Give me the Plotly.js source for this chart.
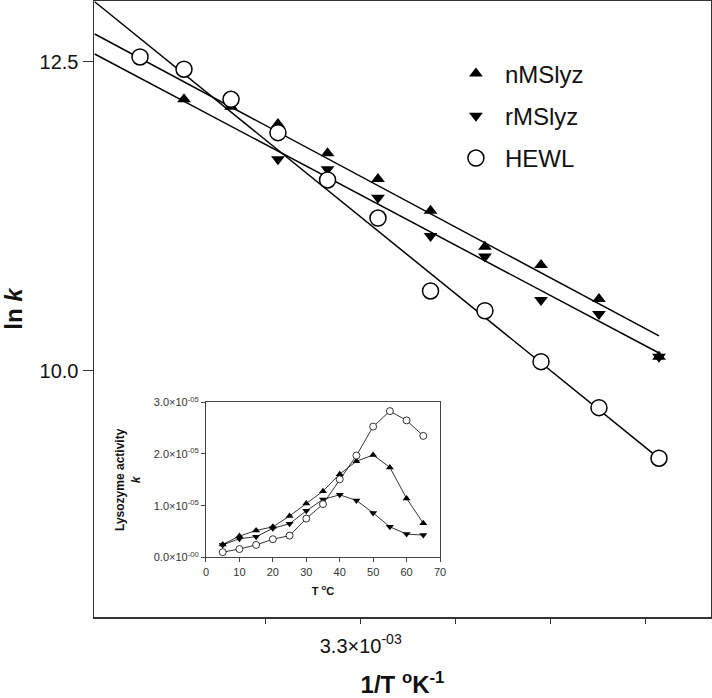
<!DOCTYPE html>
<html>
<head>
<meta charset="utf-8">
<script src="https://cdn.plot.ly/plotly-3.0.1.min.js"></script>
<style>html,body{margin:0;padding:0;background:#fff;}#chart{width:712px;height:698px;}</style>
</head>
<body>
<div id="chart"></div>
<script>
// ---- Main Arrhenius plot: ln k vs 1/T (1/K) ----
const hewlInvT = [0.0030677, 0.0031140, 0.0031635, 0.0032129, 0.0032651, 0.0033182, 0.0033735, 0.0034308, 0.0034898, 0.0035508, 0.0036140];
const hewlLnK  = [12.538, 12.439, 12.196, 11.926, 11.543, 11.235, 10.645, 10.485, 10.073, 9.701, 9.292];

const nmsInvT  = [0.0031140, 0.0031635, 0.0032129, 0.0032651, 0.0033182, 0.0033735, 0.0034308, 0.0034898, 0.0035508, 0.0036140];
const nmsLnK   = [12.196, 12.136, 11.996, 11.759, 11.551, 11.294, 11.002, 10.855, 10.580, 10.113];

const rmsInvT  = [0.0032129, 0.0032651, 0.0033182, 0.0033735, 0.0034308, 0.0034898, 0.0035508, 0.0036140];
const rmsLnK   = [11.710, 11.629, 11.400, 11.090, 10.923, 10.572, 10.459, 10.113];

// fitted straight lines (end points)
const fitInvT  = [0.0030200, 0.0036140];
const nmsFit   = [12.724, 10.281];
const rmsFit   = [12.562, 10.143];
const hewlFit  = [12.985, 9.291];

const xTickVals = [0.0032, 0.0033, 0.0034, 0.0035, 0.0036];
const xTickText = ['', '3.3×10<sup>-03</sup>', '', '', ''];
const yTickVals = [10, 12.5];
const yTickText = ['10.0', '12.5'];

// ---- Inset: lysozyme activity k vs T (°C) ----
const tempC   = [5, 10, 15, 20, 25, 30, 35, 40, 45, 50, 55, 60, 65];
const hewlAct = [0.10e-5, 0.16e-5, 0.24e-5, 0.35e-5, 0.42e-5, 0.75e-5, 1.03e-5, 1.51e-5, 1.97e-5, 2.53e-5, 2.83e-5, 2.65e-5, 2.35e-5];
const nmsAct  = [0.25e-5, 0.41e-5, 0.52e-5, 0.59e-5, 0.80e-5, 1.04e-5, 1.28e-5, 1.61e-5, 1.86e-5, 1.98e-5, 1.74e-5, 1.14e-5, 0.66e-5];
const rmsAct  = [0.24e-5, 0.36e-5, 0.40e-5, 0.56e-5, 0.65e-5, 0.90e-5, 1.12e-5, 1.21e-5, 1.10e-5, 0.86e-5, 0.59e-5, 0.45e-5, 0.43e-5];
const insetYTickVals = [0, 1e-5, 2e-5, 3e-5];
const insetYTickText = ['0.0×10<sup>-00</sup>', '1.0×10<sup>-05</sup>', '2.0×10<sup>-05</sup>', '3.0×10<sup>-05</sup>'];

const FONT = 'Liberation Sans, Arial, Helvetica, sans-serif';
const lineStyle = {color: '#000', width: 1.5};

const traces = [
  {x: fitInvT, y: nmsFit,  mode: 'lines', line: lineStyle, showlegend: false, hoverinfo: 'skip'},
  {x: fitInvT, y: rmsFit,  mode: 'lines', line: lineStyle, showlegend: false, hoverinfo: 'skip'},
  {x: fitInvT, y: hewlFit, mode: 'lines', line: lineStyle, showlegend: false, hoverinfo: 'skip'},
  {x: nmsInvT, y: nmsLnK, mode: 'markers', name: 'nMSlyz', legendgroup: 'a',
   marker: {symbol: 'triangle-up', size: 12, color: '#000'}},
  {x: rmsInvT, y: rmsLnK, mode: 'markers', name: 'rMSlyz', legendgroup: 'b',
   marker: {symbol: 'triangle-down', size: 12, color: '#000'}},
  {x: hewlInvT, y: hewlLnK, mode: 'markers', name: 'HEWL', legendgroup: 'c',
   marker: {symbol: 'circle', size: 16, color: '#fff', line: {color: '#000', width: 1.5}}},
  // inset
  {x: tempC, y: nmsAct, xaxis: 'x2', yaxis: 'y2', mode: 'lines+markers', showlegend: false,
   line: {color: '#000', width: 0.8}, marker: {symbol: 'triangle-up', size: 7, color: '#000'}},
  {x: tempC, y: rmsAct, xaxis: 'x2', yaxis: 'y2', mode: 'lines+markers', showlegend: false,
   line: {color: '#000', width: 0.8}, marker: {symbol: 'triangle-down', size: 7, color: '#000'}},
  {x: tempC, y: hewlAct, xaxis: 'x2', yaxis: 'y2', mode: 'lines+markers', showlegend: false,
   line: {color: '#000', width: 0.8}, marker: {symbol: 'circle', size: 7, color: '#fff', line: {color: '#000', width: 0.8}}}
];

const layout = {
  width: 712, height: 698,
  margin: {l: 94, r: 1, t: 1, b: 81, pad: 0},
  paper_bgcolor: '#fff', plot_bgcolor: '#fff',
  font: {family: FONT, color: '#111'},
  showlegend: true,
  legend: {x: 0.572, xanchor: 'left', y: 0.918, yanchor: 'top', itemwidth: 48,
           font: {family: FONT, size: 24, color: '#111'}, tracegroupgap: 8,
           bgcolor: 'rgba(0,0,0,0)', traceorder: 'grouped'},
  xaxis: {range: [0.00301926, 0.00366874], tickvals: xTickVals, ticktext: xTickText,
          ticks: 'outside', ticklen: 5, tickwidth: 1.5, tickcolor: '#333',
          showline: true, linecolor: '#333', linewidth: 1.5, mirror: true,
          showgrid: false, zeroline: false, tickfont: {size: 20, color: '#111'},
          ticklabelstandoff: 5,
          title: {text: '<b>1/T <sup>o</sup>K<sup>-1</sup></b>', font: {size: 24, color: '#111'}, standoff: 24}},
  yaxis: {range: [8.0073, 12.991], tickvals: yTickVals, ticktext: yTickText,
          ticks: 'outside', ticklen: 10, tickwidth: 1.5, tickcolor: '#333',
          showline: true, linecolor: '#333', linewidth: 1.5, mirror: true,
          showgrid: false, zeroline: false, tickfont: {size: 20, color: '#111'},
          title: {text: '<b>ln <i>k</i></b>', font: {size: 24, color: '#111'}, standoff: 12}},
  xaxis2: {domain: [0.1815, 0.5608], anchor: 'y2', range: [0, 70], dtick: 10, tick0: 0,
           ticks: 'outside', ticklen: 4, tickwidth: 1, tickcolor: '#444',
           showline: true, linecolor: '#444', linewidth: 1, mirror: true,
           showgrid: false, zeroline: false, tickfont: {size: 11, color: '#333'},
           title: {text: '<b>T <sup>o</sup>C</b>', font: {size: 11, color: '#111'}, standoff: 10}},
  yaxis2: {domain: [0.0969, 0.3485], anchor: 'x2', range: [0, 3e-5],
           tickvals: insetYTickVals, ticktext: insetYTickText,
           ticks: 'outside', ticklen: 4, tickwidth: 1, tickcolor: '#444',
           showline: true, linecolor: '#444', linewidth: 1, mirror: true,
           showgrid: false, zeroline: false, tickfont: {size: 11, color: '#333'},
           title: {text: '<b>Lysozyme activity<br><i>k</i></b>', font: {size: 12, color: '#111'}, standoff: 10}}
};

Plotly.newPlot('chart', traces, layout, {staticPlot: true, displayModeBar: false});
</script>
</body>
</html>
